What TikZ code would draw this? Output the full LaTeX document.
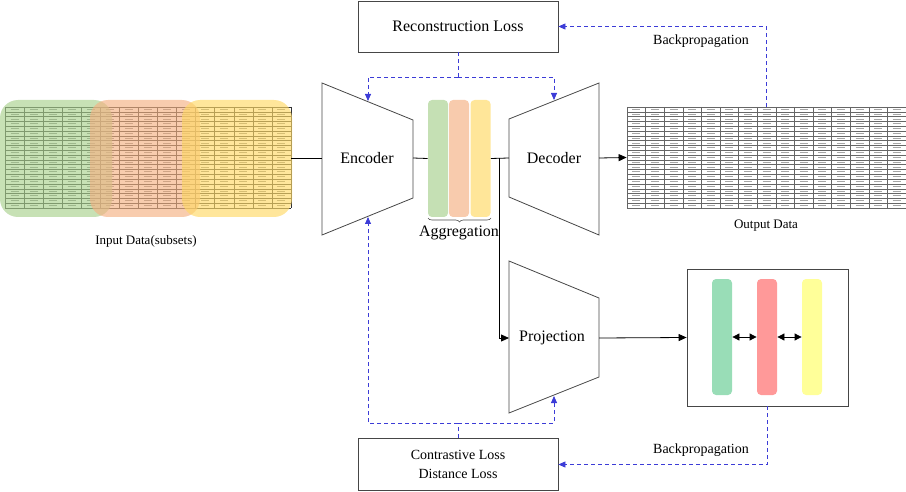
\documentclass[tikz,border=0pt]{standalone}
\usepackage{fontspec}
\setmainfont{Liberation Serif}
\usetikzlibrary{calc, arrows.meta, positioning, decorations.pathreplacing}

\definecolor{bpblue}{RGB}{60,60,215}
\definecolor{edgegray}{RGB}{70,70,70}
\definecolor{subGreen}{RGB}{169,209,142}
\definecolor{subOrange}{RGB}{244,177,131}
\definecolor{subYellow}{RGB}{255,217,102}
\definecolor{aggGreen}{RGB}{197,224,180}
\definecolor{aggOrange}{RGB}{248,203,173}
\definecolor{aggYellow}{RGB}{255,230,153}
\definecolor{embGreen}{RGB}{153,221,183}
\definecolor{embRed}{RGB}{255,153,153}
\definecolor{embYellow}{RGB}{255,255,153}

\tikzset{
	lossbox/.style={draw=edgegray, minimum width=200pt, inner sep=0pt},
	bigtxt/.style={font=\fontsize{16}{19}\selectfont},
	smalltxt/.style={font=\fontsize{14}{19}\selectfont},
	datatxt/.style={font=\fontsize{13}{16}\selectfont},
	flow/.style={draw=black, -{Triangle[length=8pt,width=7pt]}},
	backprop/.style={draw=bpblue, dash pattern=on 4pt off 3pt, -{Triangle[length=7pt,width=6pt]}},
	bpline/.style={draw=bpblue, dash pattern=on 4pt off 3pt},
	bar/.style={rounded corners=4pt, inner sep=0pt, minimum width=20pt},
	subset/.style={rounded corners=18pt, fill opacity=.65},
}

\begin{document}
\begin{tikzpicture}[x=1pt, y=-1pt, line width=.8pt]
	\useasboundingbox (0,0) rectangle (906,492);
	\def\nrow{21}
	\def\ncol{15}

	% --- input data (subsets) ---
	\foreach \r in {0,...,\nrow} \draw[black!80, line width=.5pt] (5,{107+\r*101/\nrow}) -- (291,{107+\r*101/\nrow});
	\foreach \c in {0,...,\ncol} \draw[black!80, line width=.5pt] ({5+\c*286/\ncol},107) -- ({5+\c*286/\ncol},208);
	\foreach \r in {1,...,\nrow} \foreach \c in {1,...,\ncol}
		\draw[black!45, line width=1pt] ({5+(\c-.5)*286/\ncol-4},{107+(\r-.5)*101/\nrow}) -- ++(8,0);
	\fill[subset, subGreen] (0,100) rectangle (112,217);
	\fill[subset, subOrange] (90,100) rectangle (200,217);
	\fill[subset, subYellow] (182,100) rectangle (292,217);
	\coordinate (inp-out) at (291,158);
	\node[datatxt] (inplbl) at (146,241) {Input Data(subsets)};

	% --- encoder ---
	\draw[edgegray] (322,83) -- (413,120) -- (413,198) -- (322,235) -- cycle;
	\node[bigtxt] (enc) at (367,158) {Encoder};
	\coordinate (enc-in) at (322,158);
	\coordinate (enc-out) at (413,158);
	\coordinate (enc-top) at (368,101);
	\coordinate (enc-bot) at (368,217);

	% --- aggregation ---
	\node[bar, fill=aggGreen, minimum height=117pt] (agg1) at (438,158.5) {};
	\node[bar, fill=aggOrange, minimum height=117pt] (agg2) at (459,158.5) {};
	\node[bar, fill=aggYellow, minimum height=117pt] (agg3) at (480.5,158.5) {};
	\draw[black!70, line width=.6pt, decorate, decoration={brace, mirror, amplitude=4pt}] (428,218) -- (491,218);
	\node[bigtxt] (agglbl) at (459,233) {Aggregation};
	\coordinate (split) at (499,158);

	% --- decoder ---
	\draw[edgegray] (509,119) -- (599,83) -- (599,235) -- (509,197) -- cycle;
	\node[bigtxt] (dec) at (554,158) {Decoder};
	\coordinate (dec-in) at (509,158);
	\coordinate (dec-out) at (599,158);
	\coordinate (dec-top) at (554,100);

	% --- output data ---
	\node[minimum width=279pt, minimum height=101pt, inner sep=0pt] (outdata) at (766.5,157.5) {};
	\foreach \r in {0,...,\nrow} \draw[black!60, line width=.5pt] (627,{107+\r*101/\nrow}) -- (906,{107+\r*101/\nrow});
	\foreach \c in {0,...,\ncol} \draw[black!60, line width=.5pt] ({627+\c*279/\ncol},107) -- ({627+\c*279/\ncol},208);
	\foreach \r in {1,...,\nrow} \foreach \c in {1,...,\ncol}
		\draw[black!35, line width=1pt] ({627+(\c-.5)*279/\ncol-4},{107+(\r-.5)*101/\nrow}) -- ++(8,0);
	\node[datatxt] (outlbl) at (766,226) {Output Data};

	% --- projection ---
	\draw[edgegray] (509,261) -- (599,298) -- (599,377) -- (509,413) -- cycle;
	\node[bigtxt] (proj) at (552,338) {Projection};
	\coordinate (proj-in) at (509,338);
	\coordinate (proj-out) at (599,338);
	\coordinate (proj-bot) at (554,396);

	% --- embeddings ---
	\node[draw=edgegray, minimum width=161pt, minimum height=137pt, inner sep=0pt] (embed) at (767.5,337.5) {};
	\node[bar, fill=embGreen, minimum height=116pt] (emb1) at (722,337) {};
	\node[bar, fill=embRed, minimum height=116pt] (emb2) at (767,337) {};
	\node[bar, fill=embYellow, minimum height=116pt] (emb3) at (812,337) {};
	\draw[{Triangle[length=7pt,width=7pt]}-{Triangle[length=7pt,width=7pt]}] (emb1.east) -- (emb2.west);
	\draw[{Triangle[length=7pt,width=7pt]}-{Triangle[length=7pt,width=7pt]}] (emb2.east) -- (emb3.west);

	% --- losses ---
	\node[lossbox, bigtxt, minimum height=51pt] (recon) at (458,26.5) {Reconstruction Loss};
	\node[lossbox, smalltxt, minimum height=52pt, align=center] (contra) at (458,464.5) {Contrastive Loss\\Distance Loss};

	% --- forward path ---
	\draw[black] (inp-out) -- (enc-in);
	\draw[black] (enc-out) -- (agg1.west);
	\draw[black] (agg3.east) -- (dec-in);
	\draw[flow] (split) |- (proj-in);
	\draw[flow] (dec-out) -- (outdata.west);
	\draw[flow] (proj-out) -- (embed.west);

	% --- backpropagation ---
	\draw[backprop] (outdata.north) |- (recon.east);
	\node[smalltxt] (bptop) at (701,41) {Backpropagation};
	\draw[bpline] (recon.south) -- (458,77) coordinate (rsplit);
	\draw[backprop] (rsplit) -| (enc-top);
	\draw[backprop] (rsplit) -| (dec-top);
	\draw[backprop] (embed.south) |- (contra.east);
	\node[smalltxt] (bpbot) at (701,450) {Backpropagation};
	\draw[bpline] (contra.north) -- (458,423) coordinate (csplit);
	\draw[backprop] (csplit) -| (enc-bot);
	\draw[backprop] (csplit) -| (proj-bot);
\end{tikzpicture}
\end{document}
